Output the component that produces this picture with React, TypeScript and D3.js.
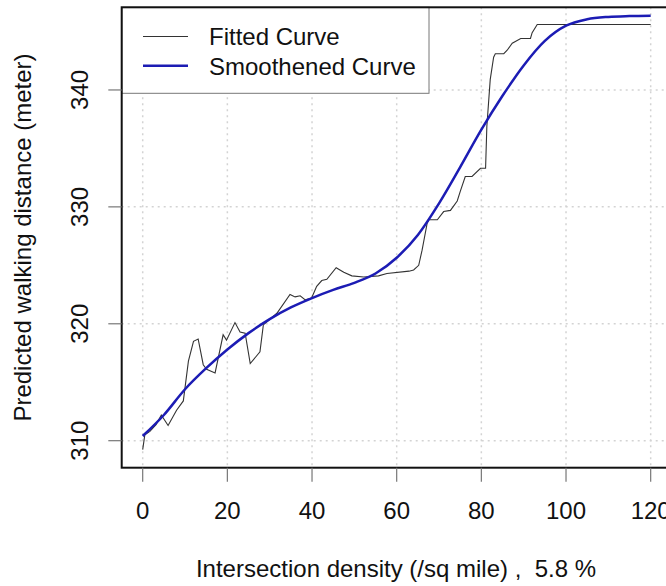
import React from "react";
import * as d3 from "d3";

const fittedX = [0, 0.5, 1.7, 3.2, 4.4, 6.0, 8.0, 9.6, 10.8, 12.0, 13.1, 14.3, 15.1, 17.1, 19.0, 19.8, 21.8, 23.0, 24.2, 25.4, 27.7, 28.5, 31.7, 34.8, 36.0, 37.2, 38.4, 39.9, 41.1, 42.3, 43.5, 45.7, 47.5, 49.4, 52.2, 55.7, 57.7, 62.9, 64.0, 65.2, 66.0, 67.2, 67.6, 69.6, 71.1, 72.7, 74.3, 75.0, 76.2, 77.8, 79.8, 81.0, 81.3, 82.1, 82.9, 83.3, 85.3, 86.1, 87.3, 89.3, 91.6, 92.0, 93.2, 120];
const fittedY = [309.23, 310.5, 310.8, 311.4, 312.2, 311.3, 312.6, 313.4, 316.8, 318.5, 318.7, 316.5, 316.1, 315.8, 319.06, 318.6, 320.1, 319.3, 319.2, 316.6, 317.6, 319.9, 320.9, 322.5, 322.3, 322.4, 322.05, 322.2, 323.2, 323.7, 323.8, 324.8, 324.4, 324.1, 324.0, 324.1, 324.3, 324.5, 324.6, 325.0, 326.3, 328.6, 328.9, 328.9, 329.6, 329.7, 330.5, 331.3, 332.6, 332.6, 333.3, 333.3, 336.9, 340.9, 342.8, 343.1, 343.1, 343.4, 344.0, 344.4, 344.4, 344.9, 345.6, 345.6];

const smoothX = [0, 5, 10, 15, 20, 25, 30, 35, 40, 45, 50, 55, 60, 65, 70, 75, 80, 85, 90, 95, 100, 105, 110, 115, 120];
const smoothY = [310.4, 312.2, 314.4, 316.2, 317.8, 319.2, 320.4, 321.4, 322.2, 322.9, 323.5, 324.3, 325.65, 327.6, 330.3, 333.4, 336.6, 339.5, 342.1, 344.2, 345.5, 346.05, 346.25, 346.32, 346.35];

const xTicks = [0, 20, 40, 60, 80, 100, 120];
const yTicks = [310, 320, 330, 340];
const legendLabels = ["Fitted Curve", "Smoothened Curve"];
const xTitle = "Intersection density (/sq mile) ,  5.8 %";
const yTitle = "Predicted walking distance (meter)";

const FONT = "'Liberation Sans', Arial, sans-serif";

export default function App() {
  const left = 121.7, right = 671, top = 7.3, bottom = 467.7;
  const x = d3.scaleLinear().domain([-4.96, 124.8]).range([left, right]);
  const y = d3.scaleLinear().domain([307.69, 347.07]).range([bottom, top]);

  const fitted = fittedX.map((v, i) => [v, fittedY[i]] as [number, number]);
  const smooth = smoothX.map((v, i) => [v, smoothY[i]] as [number, number]);

  const lineLin = d3.line<[number, number]>().x(d => x(d[0])).y(d => y(d[1]));
  const lineSmooth = d3.line<[number, number]>().x(d => x(d[0])).y(d => y(d[1])).curve(d3.curveMonotoneX);

  const legX = left, legY = top, legW = 307.3, legH = 86;

  return (
    <svg width={666} height={586} style={{ position: "absolute", left: 0, top: 0, background: "white" }} fontFamily={FONT}>
      <rect x={0} y={0} width={666} height={586} fill="white" />
      {/* grid */}
      {xTicks.map(t => (
        <line key={"gx" + t} x1={x(t)} x2={x(t)} y1={top} y2={bottom} stroke="#d3d3d3" strokeWidth={1.5} strokeDasharray="2,4" />
      ))}
      {yTicks.map(t => (
        <line key={"gy" + t} x1={left} x2={666} y1={y(t)} y2={y(t)} stroke="#d3d3d3" strokeWidth={1.5} strokeDasharray="2,4" />
      ))}
      {/* curves */}
      <path d={lineLin(fitted) || ""} fill="none" stroke="#333" strokeWidth={1.1} />
      <path d={lineSmooth(smooth) || ""} fill="none" stroke="#1c1cb4" strokeWidth={2.5} />
      {/* legend */}
      <rect x={legX} y={legY} width={legW} height={legH} fill="white" stroke="#777" strokeWidth={1} />
      <line x1={143} x2={188} y1={36.5} y2={36.5} stroke="#333" strokeWidth={1.1} />
      <line x1={143} x2={188} y1={65.7} y2={65.7} stroke="#1c1cb4" strokeWidth={2.5} />
      <text x={209} y={45} fontSize={24} fill="#111">{legendLabels[0]}</text>
      <text x={209} y={74.5} fontSize={24} fill="#111">{legendLabels[1]}</text>
      {/* box */}
      <rect x={left} y={top} width={700} height={bottom - top} fill="none" stroke="#111" strokeWidth={2} />
      {/* x axis */}
      {xTicks.map(t => (
        <g key={"xt" + t}>
          <line x1={x(t)} x2={x(t)} y1={bottom} y2={bottom + 14} stroke="#777" strokeWidth={1.2} />
          <text x={x(t)} y={518.5} fontSize={24} textAnchor="middle" fill="#111">{t}</text>
        </g>
      ))}
      {/* y axis */}
      {yTicks.map(t => (
        <g key={"yt" + t}>
          <line x1={left - 13.4} x2={left} y1={y(t)} y2={y(t)} stroke="#777" strokeWidth={1.2} />
          <text transform={`translate(88,${y(t)}) rotate(-90)`} fontSize={24} textAnchor="middle" fill="#111">{t}</text>
        </g>
      ))}
      <text x={396} y={577} fontSize={24} textAnchor="middle" fill="#111" style={{ whiteSpace: "pre" }}>{xTitle}</text>
      <text transform={`translate(30.5,${(top + bottom) / 2}) rotate(-90)`} fontSize={24} textAnchor="middle" fill="#111">{yTitle}</text>
    </svg>
  );
}
